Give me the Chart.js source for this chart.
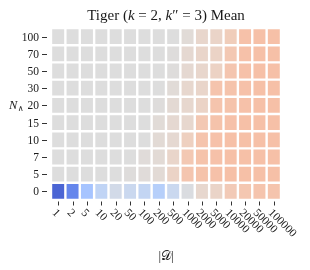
<!DOCTYPE html>
<html>
<head>
<meta charset="utf-8">
<script src="https://cdn.jsdelivr.net/npm/chart.js@4/dist/chart.umd.min.js"></script>
<style>
  html, body { margin: 0; padding: 0; background: #fff; }
</style>
</head>
<body>
<canvas id="chart" width="310" height="270"></canvas>
<script>
(() => {
  // |D| values (columns) and N_∧ values (rows, top to bottom)
  const sizes = ["1", "2", "5", "10", "20", "50", "100", "200", "500", "1000",
    "2000", "5000", "10000", "20000", "50000", "100000"];
  const nLambda = ["100", "70", "50", "30", "20", "15", "10", "7", "5", "0"];

  // mean, normalised to the colour range (0 = blue end, 0.5 = neutral, 1 = red end)
  const meanN100 = [.50, .50, .50, .50, .50, .50, .50, .50, .50, .515, .545, .555, .59, .635, .64, .64];
  const meanN70 = [.50, .50, .50, .50, .50, .50, .50, .50, .505, .53, .55, .56, .61, .635, .64, .64];
  const meanN50 = [.50, .50, .50, .50, .50, .50, .50, .50, .505, .53, .545, .565, .62, .635, .64, .64];
  const meanN30 = [.50, .50, .50, .50, .50, .50, .50, .50, .515, .54, .55, .625, .63, .635, .64, .64];
  const meanN20 = [.50, .50, .50, .50, .50, .50, .50, .505, .525, .54, .56, .625, .63, .635, .64, .64];
  const meanN15 = [.50, .50, .50, .50, .50, .50, .50, .515, .53, .54, .61, .63, .635, .64, .64, .64];
  const meanN10 = [.50, .50, .50, .50, .50, .50, .50, .52, .53, .575, .625, .635, .64, .64, .64, .64];
  const meanN7 = [.50, .50, .50, .50, .50, .50, .51, .52, .55, .61, .63, .635, .64, .64, .64, .64];
  const meanN5 = [.50, .50, .50, .50, .50, .505, .51, .52, .56, .62, .63, .635, .64, .64, .64, .64];
  const meanN0 = [.055, .135, .32, .40, .46, .43, .41, .37, .43, .49, .54, .555, .60, .615, .625, .625];

  const meanRows = [meanN100, meanN70, meanN50, meanN30, meanN20, meanN15, meanN10, meanN7, meanN5, meanN0];

  // coolwarm, 33 evenly spaced anchors
  const COOLWARM = [
    [59, 76, 192], [68, 90, 204], [77, 104, 215], [87, 117, 225], [98, 130, 234],
    [108, 142, 241], [119, 154, 247], [130, 165, 251], [141, 176, 254], [152, 185, 255],
    [163, 194, 255], [174, 201, 253], [184, 208, 249], [194, 213, 244], [204, 217, 238],
    [213, 219, 230], [221, 221, 221], [229, 216, 209], [236, 211, 197], [241, 204, 185],
    [245, 196, 173], [247, 187, 160], [247, 177, 148], [247, 166, 135], [244, 154, 123],
    [241, 141, 111], [236, 127, 99], [229, 112, 88], [222, 96, 77], [213, 80, 66],
    [203, 62, 56], [192, 40, 47], [180, 4, 38]
  ];

  function cmap(t) {
    t = Math.max(0, Math.min(1, t));
    const n = COOLWARM.length - 1;
    const f = t * n;
    const i = Math.min(n - 1, Math.floor(f));
    const r = f - i;
    const a = COOLWARM[i], b = COOLWARM[i + 1];
    const c = [0, 1, 2].map((k) => Math.round(a[k] + (b[k] - a[k]) * r));
    return `rgb(${c[0]},${c[1]},${c[2]})`;
  }

  const SERIF = "'Liberation Serif', 'DejaVu Serif', serif";
  const INK = "#1a1a1a";

  // stacked bars: first dataset is the bottom row
  const datasets = meanRows.slice().reverse().map((row, i) => ({
    label: nLambda[nLambda.length - 1 - i],
    data: row.map(() => 1),
    backgroundColor: row.map(cmap),
    borderColor: "#ffffff",
    borderWidth: 1.2,
    borderSkipped: false,
    inflateAmount: 0,
    barPercentage: 1,
    categoryPercentage: 1
  }));

  const bottomUp = nLambda.slice().reverse();

  const decor = {
    id: "decor",
    afterDraw(c) {
      const { ctx, chartArea, scales } = c;
      const x = scales.x, y = scales.y;
      ctx.save();
      ctx.strokeStyle = "#333";
      ctx.lineWidth = 1;

      // y tick marks and labels
      ctx.fillStyle = INK;
      ctx.font = `11.5px ${SERIF}`;
      ctx.textAlign = "right";
      ctx.textBaseline = "middle";
      bottomUp.forEach((lab, i) => {
        const py = Math.round(y.getPixelForValue(i + 0.5)) + 0.5;
        ctx.beginPath();
        ctx.moveTo(42, py);
        ctx.lineTo(47, py);
        ctx.stroke();
        ctx.fillText(lab, 39, py);
      });

      // x tick marks and rotated labels
      ctx.font = `11.5px ${SERIF}`;
      ctx.textAlign = "left";
      sizes.forEach((lab, i) => {
        const px = Math.round(x.getPixelForValue(i)) + 0.5;
        ctx.beginPath();
        ctx.moveTo(px, chartArea.bottom + 1.5);
        ctx.lineTo(px, chartArea.bottom + 5.5);
        ctx.stroke();
        ctx.save();
        ctx.translate(px - 4.5, 211);
        ctx.rotate(Math.PI / 4);
        ctx.fillText(lab, 0, 0);
        ctx.restore();
      });

      // title with math parts
      const parts = [
        ["Tiger (", false], ["k", true], [" = 2, ", false], ["k", true],
        ["\u2033", false], [" = 3) Mean", false]
      ];
      const fs = 15;
      let total = 0;
      parts.forEach(([t, it]) => {
        ctx.font = `${it ? "italic " : ""}${fs}px ${SERIF}`;
        total += ctx.measureText(t).width;
      });
      let tx = (chartArea.left + chartArea.right) / 2 - total / 2;
      ctx.textBaseline = "alphabetic";
      parts.forEach(([t, it]) => {
        ctx.font = `${it ? "italic " : ""}${fs}px ${SERIF}`;
        ctx.fillText(t, tx, 20);
        tx += ctx.measureText(t).width;
      });

      // y axis label N_∧
      ctx.font = `italic 12.5px ${SERIF}`;
      ctx.fillText("N", 9, 109);
      const nw = ctx.measureText("N").width;
      ctx.font = `8px ${SERIF}`;
      ctx.fillText("\u2227", 9 + nw + 0.5, 111);

      // x axis label |D|
      ctx.font = `13px ${SERIF}`;
      ctx.textAlign = "center";
      ctx.fillText("|\uD835\uDC9F|", (chartArea.left + chartArea.right) / 2, 260);

      ctx.restore();
    }
  };

  new Chart(document.getElementById("chart"), {
    type: "bar",
    data: { labels: sizes, datasets },
    options: {
      responsive: false,
      animation: false,
      events: [],
      layout: { padding: { top: 28, right: 29, left: 0, bottom: 0 } },
      plugins: {
        legend: { display: false },
        title: { display: false },
        tooltip: { enabled: false }
      },
      scales: {
        x: {
          type: "category",
          stacked: true,
          offset: true,
          ticks: { display: false },
          grid: { display: false },
          border: { display: false },
          afterFit(s) { s.height = 70; }
        },
        y: {
          type: "linear",
          stacked: true,
          min: 0,
          max: 10,
          afterBuildTicks(axis) {
            axis.ticks = bottomUp.map((_, i) => ({ value: i + 0.5 }));
          },
          ticks: { display: false },
          grid: { display: false },
          border: { display: false },
          afterFit(s) { s.width = 51; }
        }
      }
    },
    plugins: [decor]
  });
})();
</script>
</body>
</html>
